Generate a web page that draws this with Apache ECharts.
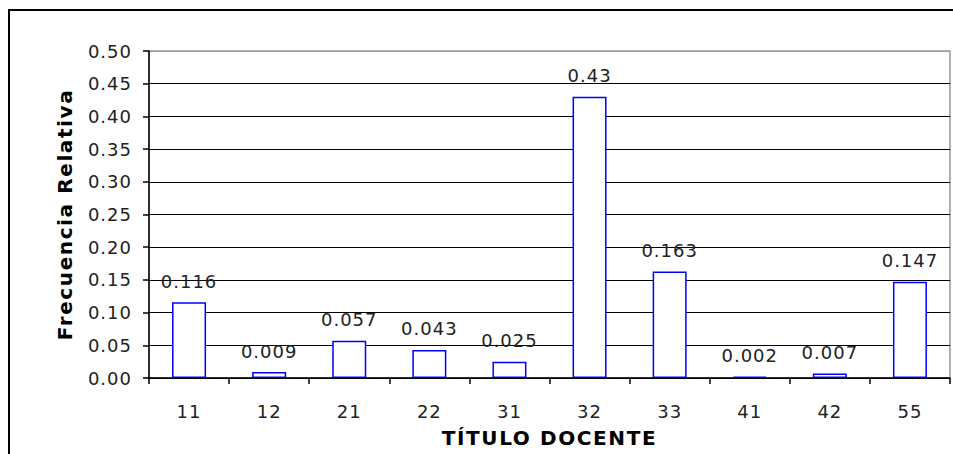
<!DOCTYPE html>
<html>
<head>
<meta charset="utf-8">
<script src="https://cdn.jsdelivr.net/npm/echarts@6/dist/echarts.min.js"></script>
<style>
html,body{margin:0;padding:0;background:#fff;overflow:hidden;}
#c{width:953px;height:454px;}
#c svg text{letter-spacing:1px;}
#c svg text[style*="bold"]{letter-spacing:1.6px;}
</style>
</head>
<body>
<div id="c"></div>
<script>
var categories = ['11','12','21','22','31','32','33','41','42','55'];
var values = [0.116, 0.009, 0.057, 0.043, 0.025, 0.43, 0.163, 0.002, 0.007, 0.147];
var valueLabels = ['0.116','0.009','0.057','0.043','0.025','0.43','0.163','0.002','0.007','0.147'];

var font = 'DejaVu Sans, Verdana, sans-serif';
var gridColors = [];
for (var i = 0; i < 10; i++) gridColors.push('#000');
gridColors.push('#999');

var chart = echarts.init(document.getElementById('c'), null, {renderer: 'svg'});
chart.setOption({
  animation: false,
  backgroundColor: '#fff',
  graphic: [{
    type: 'rect',
    shape: {x: 9, y: 10, width: 1200, height: 800},
    style: {fill: 'none', stroke: '#000', lineWidth: 2},
    z: 100
  }],
  grid: {left: 149, top: 51, width: 801, height: 327, show: true, borderColor: '#999', borderWidth: 1.5, backgroundColor: '#fff'},
  xAxis: {
    type: 'category',
    data: categories,
    name: 'TÍTULO DOCENTE',
    nameLocation: 'middle',
    nameGap: 50,
    nameTextStyle: {fontFamily: font, fontSize: 20, fontWeight: 'bold', color: '#000'},
    axisLine: {lineStyle: {color: '#000', width: 1.5}},
    axisTick: {show: true, alignWithLabel: false, length: 6, lineStyle: {color: '#000', width: 1.5}},
    axisLabel: {fontFamily: font, fontSize: 18, color: '#222', margin: 24}
  },
  yAxis: {
    type: 'value',
    min: 0, max: 0.5, interval: 0.05,
    name: 'Frecuencia Relativa',
    nameLocation: 'middle',
    nameGap: 74,
    nameTextStyle: {fontFamily: font, fontSize: 20, fontWeight: 'bold', color: '#000'},
    axisLine: {show: true, lineStyle: {color: '#000', width: 1.5}},
    axisTick: {show: true, length: 6, lineStyle: {color: '#000', width: 1.5}},
    axisLabel: {fontFamily: font, fontSize: 18, color: '#222', margin: 17, formatter: function(v){return v.toFixed(2);}},
    splitLine: {show: true, lineStyle: {color: gridColors, width: 1.2}}
  },
  series: [{
    type: 'bar',
    data: values,
    barWidth: 34,
    itemStyle: {color: '#fff', borderColor: '#0000ff', borderWidth: 1.5},
    label: {
      show: true, position: 'top', distance: 12,
      fontFamily: font, fontSize: 18, color: '#222',
      formatter: function(p){return valueLabels[p.dataIndex];}
    }
  }]
});
</script>
</body>
</html>
